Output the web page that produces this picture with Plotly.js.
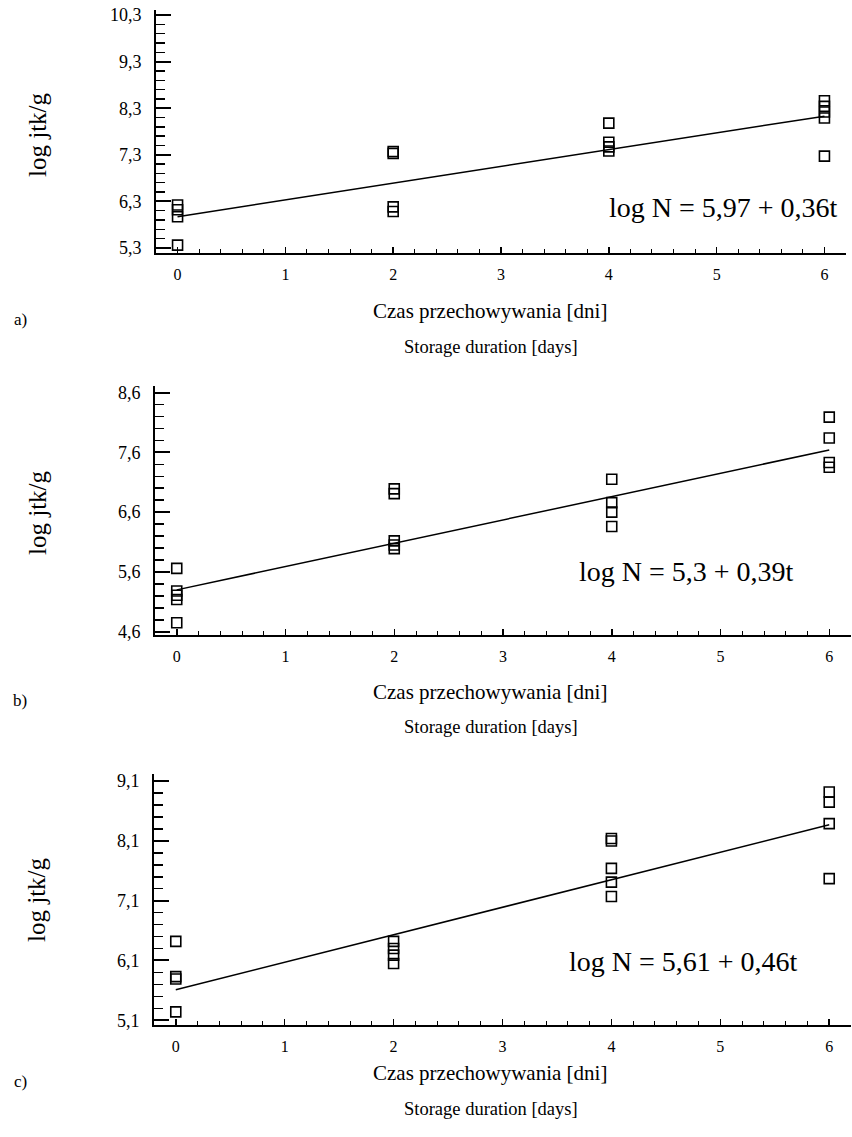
<!DOCTYPE html>
<html>
<head>
<meta charset="utf-8">
<script src="https://cdn.plot.ly/plotly-3.0.1.min.js"></script>
<style>html,body{margin:0;padding:0;background:#fff;}#chart{width:852px;height:1137px;}</style>
</head>
<body>
<div id="chart"></div>
<script>
// ---- data ----
const xA = [0,0,0,0, 2,2,2,2, 4,4,4,4, 6,6,6,6,6];
const yA = [6.22,6.12,5.97,5.36, 7.37,7.33,6.18,6.08, 7.98,7.57,7.47,7.38, 8.46,8.34,8.22,8.09,7.27];
const xB = [0,0,0,0,0, 2,2,2,2,2, 4,4,4,4, 6,6,6,6];
const yB = [5.66,5.28,5.21,5.14,4.75, 6.99,6.91,6.12,6.05,5.99, 7.15,6.76,6.6,6.36, 8.19,7.84,7.43,7.35];
const xC = [0,0,0,0, 2,2,2,2, 4,4,4,4,4, 6,6,6,6];
const yC = [6.42,5.83,5.79,5.24, 6.42,6.3,6.19,6.05, 8.14,8.1,7.64,7.41,7.17, 8.92,8.75,8.39,7.47];
const fitX = [0, 6];
const fitA = [5.97, 8.13];
const fitB = [5.3, 7.64];
const fitC = [5.61, 8.37];
const eqA = 'log N = 5,97 + 0,36t';
const eqB = 'log N = 5,3 + 0,39t';
const eqC = 'log N = 5,61 + 0,46t';
const yTickA = [5.3, 6.3, 7.3, 8.3, 9.3, 10.3];
const yTickB = [4.6, 5.6, 6.6, 7.6, 8.6];
const yTickC = [5.1, 6.1, 7.1, 8.1, 9.1];
const xTicks = [0, 1, 2, 3, 4, 5, 6];
const yTitle = 'log jtk/g';
const xTitlePl = 'Czas przechowywania [dni]';
const xTitleEn = 'Storage duration [days]';
const panelLabels = ['a)', 'b)', 'c)'];

// ---- layout helpers ----
const W = 852, H = 1137;
const px = x => x / W;
const py = y => 1 - y / H;
const FONT = 'Liberation Serif, Times New Roman, serif';
const fmt = v => String(v).replace('.', ',');

function xaxis(dom, anchor) {
  return {
    domain: dom, anchor: anchor, range: [-0.2, 6.2],
    showline: true, linecolor: '#000', linewidth: 2,
    showgrid: false, zeroline: false,
    tickmode: 'array', tickvals: xTicks, ticktext: xTicks.map(String),
    ticks: 'inside', ticklen: 6, tickwidth: 1.5, tickcolor: '#000',
    ticklabelstandoff: 6,
    minor: {tick0: 0, dtick: 0.2, ticks: 'inside', ticklen: 4, tickwidth: 1, tickcolor: '#000', showgrid: false},
    tickfont: {family: FONT, size: 16, color: '#000'},
    fixedrange: true
  };
}
function yaxis(dom, anchor, range, tv) {
  return {
    domain: dom, anchor: anchor, range: range,
    showline: true, linecolor: '#000', linewidth: 2,
    showgrid: false, zeroline: false,
    tickmode: 'array', tickvals: tv, ticktext: tv.map(fmt),
    ticks: 'inside', ticklen: 15, tickwidth: 2, tickcolor: '#000',
    ticklabelstandoff: 9,
    minor: {tick0: tv[0], dtick: 0.2, ticks: 'inside', ticklen: 9, tickwidth: 1.5, tickcolor: '#000', showgrid: false},
    tickfont: {family: FONT, size: 18, color: '#000'},
    fixedrange: true
  };
}
function pts(x, y, xa, ya) {
  return {x: x, y: y, xaxis: xa, yaxis: ya, type: 'scatter', mode: 'markers',
    marker: {symbol: 'square-open', size: 10, color: '#000', line: {width: 1.6, color: '#000'}},
    showlegend: false, hoverinfo: 'skip', cliponaxis: false};
}
function fit(y, xa, ya) {
  return {x: fitX, y: y, xaxis: xa, yaxis: ya, type: 'scatter', mode: 'lines',
    line: {color: '#000', width: 1.5}, showlegend: false, hoverinfo: 'skip'};
}

const data = [
  fit(fitA, 'x', 'y'), pts(xA, yA, 'x', 'y'),
  fit(fitB, 'x2', 'y2'), pts(xB, yB, 'x2', 'y2'),
  fit(fitC, 'x3', 'y3'), pts(xC, yC, 'x3', 'y3')
];

function txt(x, y, text, size, extra) {
  return Object.assign({xref: 'paper', yref: 'paper', x: px(x), y: py(y), text: text,
    showarrow: false, xanchor: 'center', yanchor: 'middle',
    font: {family: FONT, size: size, color: '#000'}}, extra || {});
}

const panels = [
  {titleY: 135, czas: 311, stor: 347, lab: 320, eqX: 723, eqY: 207, eq: eqA},
  {titleY: 513, czas: 692, stor: 727, lab: 700, eqX: 686, eqY: 571, eq: eqB},
  {titleY: 900, czas: 1073, stor: 1109, lab: 1081, eqX: 683, eqY: 961, eq: eqC}
];
const annotations = [];
panels.forEach((p, i) => {
  annotations.push(txt(37, p.titleY, yTitle, 25, {textangle: -90}));
  annotations.push(txt(490, p.czas, xTitlePl, 21));
  annotations.push(txt(491, p.stor, xTitleEn, 18.5));
  annotations.push(txt(20, p.lab, panelLabels[i], 17));
  annotations.push(txt(p.eqX, p.eqY, p.eq, 28));
});

const layout = {
  width: W, height: H,
  margin: {l: 0, r: 0, t: 0, b: 0},
  paper_bgcolor: '#fff', plot_bgcolor: 'rgba(0,0,0,0)',
  font: {family: FONT, color: '#000'},
  showlegend: false,
  xaxis: xaxis([px(156), px(846)], 'y'),
  yaxis: yaxis([py(253), py(10)], 'x', [5.19, 10.41], yTickA),
  xaxis2: xaxis([px(155), px(851)], 'y2'),
  yaxis2: yaxis([py(635), py(386)], 'x2', [4.545, 8.71], yTickB),
  xaxis3: xaxis([px(154), px(851)], 'y3'),
  yaxis3: yaxis([py(1025), py(774)], 'x3', [5.02, 9.22], yTickC),
  annotations: annotations
};

Plotly.newPlot('chart', data, layout, {staticPlot: true, displayModeBar: false});
</script>
</body>
</html>
